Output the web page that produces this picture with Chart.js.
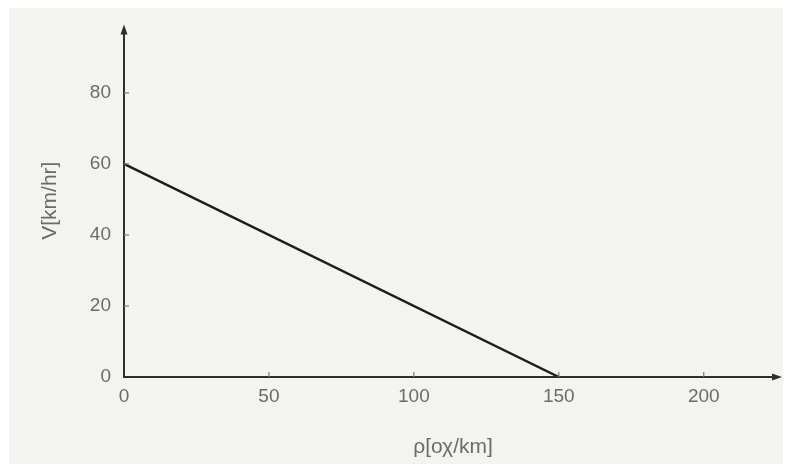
<!DOCTYPE html>
<html>
<head>
<meta charset="utf-8">
<script src="https://cdn.jsdelivr.net/npm/chart.js@4/dist/chart.umd.min.js"></script>
<style>
  html, body { margin: 0; padding: 0; background: #ffffff; }
  #wrap { width: 785px; height: 464px; }
</style>
</head>
<body>
<div id="wrap"><canvas id="c" width="785" height="464"></canvas></div>
<script>
// Speed–density relation: V falls linearly from 60 km/hr to 0 at 150 veh/km
const densityValues = [0, 150];
const speedValues = [60, 0];
const xTickValues = [0, 50, 100, 150, 200];
const yTickValues = [0, 20, 40, 60, 80];
const xTitle = 'ρ[οχ/km]';
const yTitle = 'V[km/hr]';

const points = densityValues.map((x, i) => ({ x: x, y: speedValues[i] }));

const axisColor = '#2e2e2e';
const textColor = '#6b6b6b';
const fontFamily = '"Liberation Sans", Arial, Helvetica, sans-serif';

// Paper background, arrowed axes and inward tick marks
const axesPlugin = {
  id: 'arrowAxes',
  beforeDraw(chart) {
    const ctx = chart.ctx;
    ctx.save();
    ctx.fillStyle = '#ffffff';
    ctx.fillRect(0, 0, chart.width, chart.height);
    ctx.fillStyle = '#f3f3ef';
    ctx.fillRect(9, 8, chart.width - 11, chart.height - 8);
    ctx.restore();
  },
  afterDatasetsDraw(chart) {
    const { ctx, chartArea, scales } = chart;
    const x0 = scales.x.getPixelForValue(0);
    const y0 = scales.y.getPixelForValue(0);
    ctx.save();
    ctx.strokeStyle = axisColor;
    ctx.fillStyle = axisColor;
    ctx.lineWidth = 2;
    // y axis
    ctx.beginPath();
    ctx.moveTo(x0, y0 + 1);
    ctx.lineTo(x0, chartArea.top + 4);
    ctx.stroke();
    // x axis
    ctx.beginPath();
    ctx.moveTo(x0 - 1, y0);
    ctx.lineTo(chartArea.right - 4, y0);
    ctx.stroke();
    // arrowheads
    ctx.beginPath();
    ctx.moveTo(x0, chartArea.top);
    ctx.lineTo(x0 - 3.5, chartArea.top + 10);
    ctx.lineTo(x0 + 3.5, chartArea.top + 10);
    ctx.closePath();
    ctx.fill();
    ctx.beginPath();
    ctx.moveTo(chartArea.right, y0);
    ctx.lineTo(chartArea.right - 10, y0 - 3.5);
    ctx.lineTo(chartArea.right - 10, y0 + 3.5);
    ctx.closePath();
    ctx.fill();
    // inward tick marks
    ctx.strokeStyle = '#7a7a7a';
    ctx.lineWidth = 1.2;
    xTickValues.forEach(v => {
      if (v === 0) return;
      const px = scales.x.getPixelForValue(v);
      ctx.beginPath();
      ctx.moveTo(px, y0);
      ctx.lineTo(px, y0 - 5);
      ctx.stroke();
    });
    yTickValues.forEach(v => {
      if (v === 0) return;
      const py = scales.y.getPixelForValue(v);
      ctx.beginPath();
      ctx.moveTo(x0, py);
      ctx.lineTo(x0 + 5, py);
      ctx.stroke();
    });
    ctx.restore();
  }
};

new Chart(document.getElementById('c'), {
  type: 'scatter',
  data: {
    datasets: [{
      data: points,
      showLine: true,
      borderColor: '#1c1c1c',
      borderWidth: 2.4,
      pointRadius: 0,
      pointHoverRadius: 0,
      fill: false,
      tension: 0
    }]
  },
  options: {
    responsive: false,
    animation: false,
    events: [],
    layout: { padding: { top: 22, right: 3, left: 0, bottom: 0 } },
    plugins: {
      legend: { display: false },
      tooltip: { enabled: false }
    },
    scales: {
      x: {
        type: 'linear',
        min: 0,
        max: 227,
        afterBuildTicks: s => { s.ticks = xTickValues.map(v => ({ value: v })); },
        afterFit: s => { s.height = 87; },
        grid: { display: false, drawTicks: false },
        border: { display: false },
        ticks: {
          padding: 8,
          color: textColor,
          font: { family: fontFamily, size: 19 },
          maxRotation: 0
        },
        title: {
          display: true,
          text: xTitle,
          color: textColor,
          font: { family: fontFamily, size: 21 },
          padding: { top: 0, bottom: 4 }
        }
      },
      y: {
        type: 'linear',
        min: 0,
        max: 99.3,
        afterBuildTicks: s => { s.ticks = yTickValues.map(v => ({ value: v })); },
        afterFit: s => { s.width = 124; },
        grid: { display: false, drawTicks: false },
        border: { display: false },
        ticks: {
          padding: 13,
          color: textColor,
          font: { family: fontFamily, size: 19 }
        },
        title: {
          display: true,
          text: yTitle,
          color: textColor,
          font: { family: fontFamily, size: 21 },
          padding: { top: 38, bottom: 0 }
        }
      }
    }
  },
  plugins: [axesPlugin]
});
</script>
</body>
</html>
